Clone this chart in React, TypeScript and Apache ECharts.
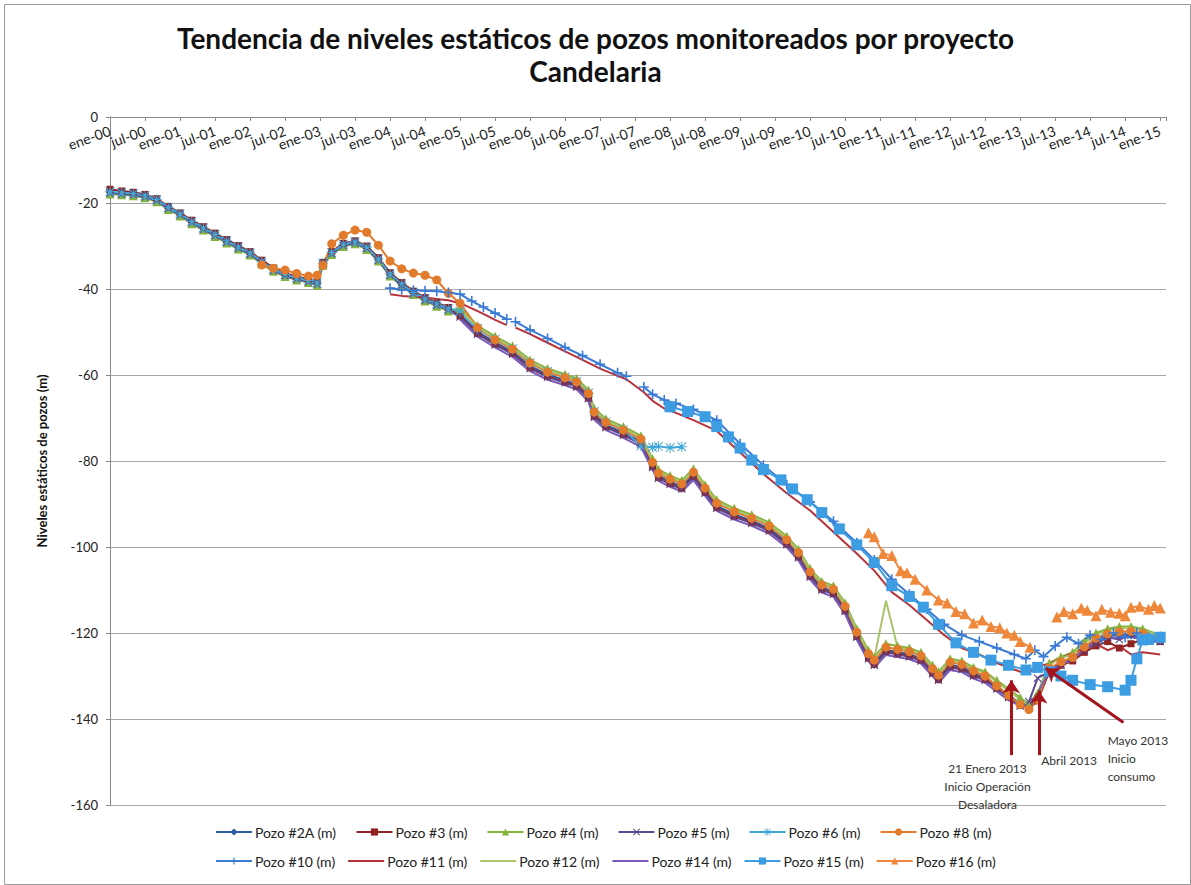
import React, { useEffect, useRef } from "react";
import * as echarts from "echarts";

// ---------- tick labels (x axis, every 6 months from ene-00) ----------
const tickLabels = [
  "ene-00","jul-00","ene-01","jul-01","ene-02","jul-02","ene-03","jul-03","ene-04","jul-04",
  "ene-05","jul-05","ene-06","jul-06","ene-07","jul-07","ene-08","jul-08","ene-09","jul-09",
  "ene-10","jul-10","ene-11","jul-11","ene-12","jul-12","ene-13","jul-13","ene-14","jul-14","ene-15",
];

// ---------- time grids (months since ene-00) ----------
const monthsEarly = [0,2,4,6,8,10,12,14,16,18,20,22,24,26,28,30,32,34,35.5,36.5,38,40,42,44,46,48,50,52,54,56,58];
const monthsLate = [60,63,66,69,72,75,78,80,82,83,85,88,91,93,94,96,98,100,102,104,107,110,113,116,118,120,122,124,126,128,130,131,133,135,137,139,141,142,144,146,148,150,152,154,156,157.5,159,161,163,165,167,169,171,173,175,177,180];

// ---------- Pozo #2A ----------
const pozo2AEarly = [-17.6,-17.8,-18.0,-18.5,-19.4,-21.2,-22.7,-24.5,-26.0,-27.5,-29.0,-30.4,-31.8,-33.8,-35.6,-36.8,-37.6,-38.2,-38.8,-34.2,-31.7,-29.8,-29.2,-30.5,-33.2,-36.7,-39.0,-41.0,-42.5,-43.7,-44.8];
const pozo2ALate = [-45.9,-49.9,-52.4,-54.6,-57.9,-59.9,-61.2,-62.2,-64.9,-69.2,-71.6,-73.4,-75.5,-80.9,-83.4,-84.8,-85.9,-83.2,-86.9,-90.4,-92.4,-93.9,-95.7,-98.9,-101.9,-106.4,-109.4,-110.4,-114.4,-120.4,-125.4,-126.9,-123.9,-124.4,-124.9,-125.9,-128.9,-130.4,-127.4,-127.9,-129.4,-130.4,-132.4,-134.4,-136.4,-137.4,-134.5,-128.4,-126.9,-125.9,-123.4,-121.4,-120.8,-120.3,-120.6,-120.9,-121.6];

// ---------- Pozo #3 ----------
const pozo3Early = [-16.8,-17.2,-17.5,-18.0,-19.0,-20.8,-22.3,-24.0,-25.5,-27.0,-28.5,-29.9,-31.3,-33.3,-35.1,-36.3,-37.1,-37.7,-38.3,-33.8,-31.3,-29.4,-28.8,-30.0,-32.7,-36.2,-38.5,-40.5,-42.0,-43.2,-44.3];
const pozo3Late = [-46.3,-50.3,-52.8,-55.0,-58.3,-60.3,-61.6,-62.6,-65.3,-69.6,-72.0,-73.8,-75.9,-81.3,-83.8,-85.2,-86.3,-83.6,-87.3,-90.8,-92.8,-94.3,-96.1,-99.3,-102.3,-106.8,-109.8,-110.8,-114.8,-120.8,-125.8,-127.3,-124.3,-124.8,-125.3,-126.3,-129.3,-130.8,-127.8,-128.3,-129.8,-130.8,-132.8,-134.8,-136.8,-137.6,-135.8,-129.0,-127.5,-126.5,-124.5,-123.0,-122.0,-123.5,-122.5,-121.5,-122.0];

// ---------- Pozo #4 ----------
const pozo4Early = [-17.9,-18.1,-18.3,-18.8,-19.7,-21.5,-23.0,-24.8,-26.3,-27.8,-29.3,-30.7,-32.1,-34.1,-35.9,-37.1,-37.9,-38.5,-39.1,-34.5,-32.0,-30.1,-29.5,-30.8,-33.5,-37.0,-39.3,-41.3,-42.8,-44.0,-45.1];
const pozo4Late = [-44.5,-48.5,-51.0,-53.2,-56.5,-58.5,-59.8,-60.8,-63.5,-67.8,-70.2,-72.0,-74.1,-79.5,-82.0,-83.4,-84.5,-81.8,-85.5,-89.0,-91.0,-92.5,-94.3,-97.5,-100.5,-105.0,-108.0,-109.0,-113.0,-119.0,-124.0,-125.5,-122.5,-123.0,-123.5,-124.5,-127.5,-129.0,-126.0,-126.5,-128.0,-129.0,-131.0,-133.0,-135.0,-136.5,-134.0,-127.0,-125.5,-124.5,-122.0,-120.0,-119.0,-118.5,-118.5,-119.0,-120.5];

// ---------- Pozo #5 ----------
const pozo5Early = [-17.7,-17.9,-18.1,-18.6,-19.5,-21.3,-22.8,-24.6,-26.1,-27.6,-29.1,-30.5,-31.9,-33.9,-35.7,-36.9,-37.7,-38.3,-38.9,-34.3,-31.8,-29.9,-29.3,-30.6,-33.3,-36.8,-39.1,-41.1,-42.6,-43.8,-44.9];
const pozo5Late = [-46.5,-50.5,-53.0,-55.2,-58.5,-60.5,-61.8,-62.8,-65.5,-69.8,-72.2,-74.0,-76.1,-81.5,-84.0,-85.4,-86.5,-83.8,-87.5,-91.0,-93.0,-94.5,-96.3,-99.5,-102.5,-107.0,-110.0,-111.0,-115.0,-121.0,-126.0,-127.5,-124.5,-125.0,-125.5,-126.5,-129.5,-131.0,-128.0,-128.5,-130.0,-131.0,-133.0,-135.0,-137.0,-136.0,-130.5,-129.0,-127.5,-126.0,-124.0,-122.5,-121.0,-121.5,-120.5,-122.0,-122.0];

// ---------- Pozo #6 ----------
const pozo6Early = [-17.4,-17.6,-17.8,-18.3,-19.2,-21.0,-22.5,-24.3,-25.8,-27.3,-28.8,-30.2,-31.6,-33.6,-35.4,-36.6,-37.4,-38.0,-38.6,-34.0,-31.5,-29.6,-29.0,-30.3,-33.0,-36.5,-38.8,-40.8,-42.3,-43.5,-44.6];
const monthsPozo6Late = [60,63,66,69,72,75,78,80,82,83,85,88,91,93,94,96,98];
const pozo6Late = [-45.2,-49.2,-51.7,-53.9,-57.2,-59.2,-60.5,-61.5,-64.2,-68.5,-70.9,-72.7,-76.5,-76.8,-76.6,-76.9,-76.7];

// ---------- Pozo #8 ----------
const monthsPozo8Early = [26,28,30,32,34,35.5,36.5,38,40,42,44,46,48,50,52,54,56,58];
const pozo8Early = [-34.4,-35.2,-35.6,-36.4,-37.0,-36.8,-34.5,-29.5,-27.5,-26.3,-26.8,-29.8,-33.5,-35.3,-36.3,-36.8,-37.9,-41.0];
const pozo8Late = [-43.3,-49.0,-51.8,-54.0,-57.2,-59.3,-60.6,-61.6,-64.3,-68.6,-71.0,-72.8,-74.9,-80.3,-82.8,-84.2,-85.3,-82.6,-86.3,-89.8,-91.8,-93.3,-95.1,-98.3,-101.3,-105.8,-108.8,-109.8,-113.8,-119.8,-124.8,-126.3,-123.3,-123.8,-124.3,-125.3,-128.3,-129.8,-126.8,-127.3,-128.8,-130.0,-132.3,-134.5,-136.6,-137.8,-135.5,-128.2,-126.7,-125.7,-123.2,-121.2,-120.2,-119.7,-119.6,-120.1,-121.0];

// ---------- Pozo #10 ----------
const monthsPozo10 = [48,50,52,54,56,58,60,62,64,66,68,68.6,69.5,72,75,78,81,84,87,88.5,90,91.5,93,95,97,100,104,108,112,116,120,124,128,131,134,137,140,143,146,149,152,155,157,158.5,160,162,164,166,168,170,172,174,176,178,180];
const pozo10 = [-39.8,-40.2,-40.3,-40.4,-40.5,-40.8,-41.2,-42.8,-44.2,-45.6,-47.0,null,-47.6,-49.5,-51.5,-53.6,-55.5,-57.5,-59.5,-60.3,null,-62.8,-64.5,-65.8,-66.6,-68.0,-70.5,-76.0,-81.0,-85.5,-89.5,-94.0,-99.0,-103.0,-107.5,-111.0,-114.5,-118.0,-120.5,-122.0,-123.5,-125.0,-126.0,-124.0,-125.5,-123.0,-121.0,-122.5,-120.5,-121.5,-120.0,-121.0,-120.0,-121.0,-121.5];

// ---------- Pozo #11 ----------
const monthsPozo11 = [48,50,52,54,56,58,60,62,64,66,68,68.6,69.5,72,75,78,81,84,87,88.5,91.5,93,95,97,100,104,108,112,116,120,124,128,131,134,137,140,143,146,149,152,155,157,159,161,163,165,167,169,171,173,175,177,180];
const pozo11 = [-41.2,-41.6,-41.8,-42.0,-42.3,-42.6,-43.3,-44.5,-45.8,-47.2,-48.4,null,-49.0,-50.5,-52.5,-54.5,-56.5,-58.5,-60.2,-61.0,-64.0,-66.0,-67.8,-68.8,-70.5,-73.0,-78.0,-83.0,-87.5,-91.5,-96.5,-101.5,-105.5,-110.5,-113.5,-117.0,-120.5,-123.5,-125.0,-127.0,-128.5,-129.5,-128.0,-127.0,-126.0,-124.5,-123.5,-122.5,-124.0,-123.0,-125.0,-124.5,-125.0];

// ---------- Pozo #12 ----------
const pozo12Late = [-44.9,-48.9,-51.4,-53.6,-56.9,-58.9,-60.2,-61.2,-63.9,-68.2,-70.6,-72.4,-74.5,-79.9,-82.4,-83.8,-84.9,-82.2,-85.9,-89.4,-91.4,-92.9,-94.7,-97.9,-100.9,-105.4,-108.4,-109.4,-113.4,-119.4,-124.4,-125.9,-112.5,-123.4,-123.9,-124.9,-127.9,-129.4,-126.4,-126.9,-128.4,-129.4,-131.4,-133.4,-135.4,-136.8,-134.4,-127.4,-125.9,-124.9,-122.4,-120.4,-119.4,-118.9,-118.9,-119.4,-120.6];

// ---------- Pozo #14 ----------
const pozo14Late = [-47.1,-51.1,-53.6,-55.8,-59.1,-61.1,-62.4,-63.4,-66.1,-70.4,-72.8,-74.6,-76.7,-82.1,-84.6,-86.0,-87.1,-84.4,-88.1,-91.6,-93.6,-95.1,-96.9,-100.1,-103.1,-107.6,-110.6,-111.6,-115.6,-121.6,-126.6,-128.1,-125.1,-125.6,-126.1,-127.1,-130.1,-131.6,-128.6,-129.1,-130.6,-131.6,-133.6,-135.6,-137.0,-136.8,-134.0,-128.8,-127.3,-126.3,-123.8,-122.0,-121.0,-121.2,-120.8,-121.4,-121.8];

// ---------- Pozo #15 ----------
const monthsPozo15 = [96,99,102,104,106,108,110,112,115,117,119.5,122,125,128,131,134,137,139.4,142,145,148,151,154,157,159,161,163,165,168,171,174,175,176,177,178,180];
const pozo15 = [-67.4,-68.5,-69.7,-72.0,-74.4,-77.0,-79.8,-82.0,-84.4,-86.5,-89.0,-92.0,-95.8,-99.5,-103.6,-109.0,-111.5,-114.0,-118.0,-122.3,-124.5,-126.3,-127.5,-128.6,-128.0,-129.0,-130.0,-131.0,-132.0,-132.5,-133.3,-131.0,-126.0,-121.6,-121.5,-121.0];

// ---------- Pozo #16 ----------
const monthsPozo16 = [130,131,132.5,134,135.5,136.6,138,140,142,143.5,145,146.5,148,149.5,151,152.5,153.7,155,156,157.7,158.3,162.3,163.5,165,166.5,167.5,169,170,171.5,173,174,175,176.5,178,179,180];
const pozo16 = [-96.7,-97.6,-101.5,-102.0,-105.5,-106.0,-107.5,-110.0,-112.3,-113.0,-115.0,-115.5,-117.7,-117.0,-118.5,-118.8,-120.0,-120.5,-122.0,-123.3,null,-116.3,-115.0,-115.5,-114.2,-114.7,-116.0,-114.5,-115.2,-115.4,-116.0,-114.0,-113.8,-114.5,-113.6,-114.2];

// ---------- annotations (data coordinates: month, level) ----------
const arrowLines = [
  [[154.5, -148.4], [154.5, -131.0]],
  [[159.2, -148.4], [159.2, -133.4]],
  [[173.7, -140.8], [160.4, -128.2]],
];
const noteTexts = [
  { at: [150.4, -155.6], text: "21 Enero 2013\nInicio Operación\nDesaladora", pos: "inside" },
  { at: [164.4, -149.6], text: "Abril 2013", pos: "inside" },
  { at: [171.0, -149.3], text: "Mayo 2013\nInicio\nconsumo", pos: "right" },
];

const zip = (xs: number[], ys: (number | null)[]) =>
  xs.map((x, i) => [x, ys[i] === null ? "-" : ys[i]]);

const FONT = "Lato, 'Open Sans', sans-serif";

const PLUS = "path://M4.2,0H5.8V4.2H10V5.8H5.8V10H4.2V5.8H0V4.2H4.2Z";
const XMARK = "path://M1,0L5,4L9,0L10,1L6,5L10,9L9,10L5,6L1,10L0,9L4,5L0,1Z";
const STAR = "path://M4.5,0H5.5V4.5H10V5.5H5.5V10H4.5V5.5H0V4.5H4.5Z M1,0.3L5,4.3L9,0.3L9.7,1L5.7,5L9.7,9L9,9.7L5,5.7L1,9.7L0.3,9L4.3,5L0.3,1Z";

export default function App() {
  const ref = useRef<HTMLDivElement>(null);

  useEffect(() => {
    if (!ref.current) return;
    const chart = echarts.init(ref.current, null, { renderer: "svg" });

    const mk = (name: string, data: any[], color: string, symbol: string, size: number) => ({
      name,
      type: "line",
      xAxisIndex: 0,
      yAxisIndex: 0,
      data,
      symbol,
      symbolSize: size,
      showSymbol: symbol !== "none",
      connectNulls: false,
      lineStyle: { color, width: 2 },
      itemStyle: { color, borderWidth: 0, opacity: symbol === "none" ? 0 : 1 },
      emphasis: { disabled: true },
    });

    const series: any[] = [
      mk("Pozo #2A (m)", [...zip(monthsEarly, pozo2AEarly), ...zip(monthsLate, pozo2ALate)], "#2D5DA8", "diamond", 8),
      mk("Pozo #3 (m)", [...zip(monthsEarly, pozo3Early), ...zip(monthsLate, pozo3Late)], "#8E2424", "rect", 7),
      mk("Pozo #4 (m)", [...zip(monthsEarly, pozo4Early), ...zip(monthsLate, pozo4Late)], "#86B23E", "triangle", 9),
      mk("Pozo #5 (m)", [...zip(monthsEarly, pozo5Early), ...zip(monthsLate, pozo5Late)], "#5B4A92", XMARK, 8),
      mk("Pozo #6 (m)", [...zip(monthsEarly, pozo6Early), ...zip(monthsPozo6Late, pozo6Late)], "#3FA6D8", STAR, 10),
      mk("Pozo #8 (m)", [...zip(monthsPozo8Early, pozo8Early), ...zip(monthsLate, pozo8Late)], "#E27B2C", "circle", 9),
      mk("Pozo #10 (m)", zip(monthsPozo10, pozo10), "#3A7BD5", PLUS, 10),
      mk("Pozo #11 (m)", zip(monthsPozo11, pozo11), "#B8323A", "none", 0),
      mk("Pozo #12 (m)", zip(monthsLate, pozo12Late), "#A9C46C", "none", 0),
      mk("Pozo #14 (m)", zip(monthsLate, pozo14Late), "#7A59B8", "none", 0),
      mk("Pozo #15 (m)", zip(monthsPozo15, pozo15), "#3C9DE2", "rect", 11),
      mk("Pozo #16 (m)", zip(monthsPozo16, pozo16), "#F0883C", "triangle", 11),
      {
        name: "anotaciones",
        type: "line",
        xAxisIndex: 0,
        yAxisIndex: 0,
        data: [],
        silent: true,
        markLine: {
          silent: true,
          symbol: ["none", "arrow"],
          symbolSize: 13,
          lineStyle: { color: "#A3141C", width: 3, type: "solid" },
          label: { show: false },
          data: arrowLines.map(([a, b]) => [{ coord: a }, { coord: b }]),
        },
        markPoint: {
          silent: true,
          symbol: "circle",
          symbolSize: 0,
          data: noteTexts.map((n) => ({
            coord: n.at,
            label: {
              show: true,
              formatter: n.text,
              position: n.pos,
              distance: 0,
              align: n.pos === "right" ? "left" : "center",
              fontSize: 12,
              lineHeight: 18,
              color: "#333",
              fontFamily: FONT,
            },
          })),
        },
      },
    ];

    const lineOnly = ["Pozo #11 (m)", "Pozo #12 (m)", "Pozo #14 (m)"];
    const toItem = (n: string) => (lineOnly.includes(n) ? { name: n, itemStyle: { opacity: 0 } } : { name: n });
    const names1 = ["Pozo #2A (m)", "Pozo #3 (m)", "Pozo #4 (m)", "Pozo #5 (m)", "Pozo #6 (m)", "Pozo #8 (m)"];
    const names2 = ["Pozo #10 (m)", "Pozo #11 (m)", "Pozo #12 (m)", "Pozo #14 (m)", "Pozo #15 (m)", "Pozo #16 (m)"];
    const legendBase = {
      left: 210,
      itemWidth: 36,
      itemHeight: 9,
      selectedMode: false,
      textStyle: { fontSize: 14, color: "#222", fontFamily: FONT, padding: [0, 0, 0, -2] },
    };

    chart.setOption({
      animation: false,
      backgroundColor: "#ffffff",
      textStyle: { fontFamily: FONT },
      title: {
        text: "Tendencia de niveles estáticos de pozos monitoreados por proyecto\nCandelaria",
        left: "center",
        top: 16,
        textStyle: { fontSize: 28, fontWeight: "bold", color: "#111", lineHeight: 33, fontFamily: FONT },
      },
      legend: [
        { ...legendBase, top: 820, itemGap: 19, data: names1.map(toItem) },
        { ...legendBase, top: 849, itemGap: 12, data: names2.map(toItem) },
      ],
      grid: [
        { left: 110, right: 25, top: 117, bottom: 80, containLabel: false },
        // thin strip whose bottom edge is the top of the plot: carries the date tick labels
        { left: 110, right: 31, top: 100, height: 17, containLabel: false },
      ],
      xAxis: [
        {
          type: "value",
          gridIndex: 0,
          position: "top",
          min: 0,
          max: 181,
          interval: 6,
          axisLine: { show: true, onZero: false, lineStyle: { color: "#888", width: 1 } },
          axisTick: { show: true, inside: true, length: 4, lineStyle: { color: "#888" } },
          splitLine: { show: false },
          axisLabel: { show: false },
        },
        {
          type: "category",
          gridIndex: 1,
          position: "bottom",
          data: tickLabels,
          boundaryGap: false,
          axisLine: { show: false },
          axisTick: { show: false },
          splitLine: { show: false },
          axisLabel: {
            interval: 0,
            rotate: 20,
            margin: 13,
            fontSize: 14,
            color: "#222",
            fontFamily: FONT,
          },
        },
      ],
      yAxis: [
        {
          type: "value",
          gridIndex: 0,
          min: -160,
          max: 0,
          interval: 20,
          axisLine: { show: true, onZero: false, lineStyle: { color: "#888", width: 1 } },
          axisTick: { show: true, length: 4, lineStyle: { color: "#888" } },
          splitLine: { lineStyle: { color: "#a8a8a8", width: 1 } },
          axisLabel: { fontSize: 13, color: "#222", margin: 12, fontFamily: FONT },
          name: "Niveles estáticos de pozos (m)",
          nameLocation: "middle",
          nameGap: 62,
          nameTextStyle: { fontWeight: "bold", fontSize: 13, color: "#111", fontFamily: FONT },
        },
        { type: "value", gridIndex: 1, show: false },
      ],
      graphic: [
        {
          type: "rect",
          left: 2,
          top: 2,
          shape: { width: 1186, height: 880 },
          style: { fill: "none", stroke: "#9a9a9a", lineWidth: 1 },
          silent: true,
          z: -1,
        },
      ],
      series,
    });

    return () => chart.dispose();
  }, []);

  return (
    <div
      ref={ref}
      style={{ position: "fixed", left: 0, top: 0, width: 1191, height: 885 }}
    />
  );
}
